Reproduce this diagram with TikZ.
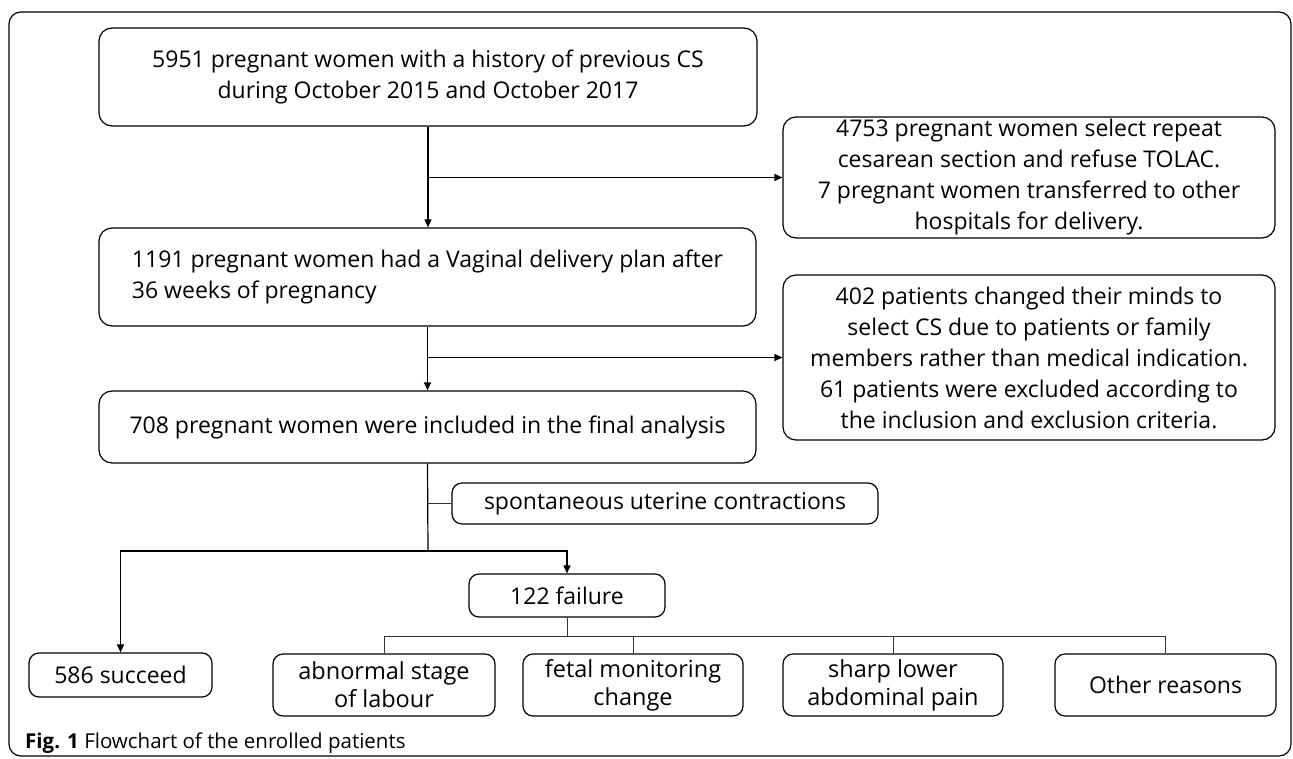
\documentclass[tikz,border=0pt]{standalone}
\usepackage{fontspec}
\setmainfont{Open Sans}
\usetikzlibrary{arrows.meta}
\begin{document}
\begin{tikzpicture}[x=1pt,y=-1pt,
  box/.style={draw, rectangle, rounded corners=13pt, line width=1.2pt, inner sep=0pt, align=center,
    font=\fontsize{23}{31}\selectfont},
  sbox/.style={box, rounded corners=10pt},
  arr/.style={line width=1.2pt, -{Triangle[length=8pt,width=7pt]}},
  conn/.style={line width=1.2pt},
  tline/.style={line width=1pt, draw=black!80},
]
\useasboundingbox (0,0) rectangle (1293,758);
\draw[line width=1.2pt, rounded corners=12pt] (9,12) rectangle (1291,756);

\node[box, minimum width=658pt, minimum height=98pt] (b1) at (428,77)
  {5951 pregnant women with a history of previous CS\\during October 2015 and October 2017};
\node[box, minimum width=492pt, minimum height=121pt] (b4753) at (1029,177.5)
  {4753 pregnant women select repeat\\cesarean section and refuse TOLAC.\\7 pregnant women transferred to other\\hospitals for delivery.};
\node[box, minimum width=657pt, minimum height=98pt, align=left] (b1191) at (427.5,277)
  {1191 pregnant women had a Vaginal delivery plan after\\36 weeks of pregnancy};
\node[box, minimum width=492pt, minimum height=165pt] (b402) at (1029,357.5)
  {402 patients changed their minds to\\select CS due to patients or family\\members rather than medical indication.\\61 patients were excluded according to\\the inclusion and exclusion criteria.};
\node[box, minimum width=657pt, minimum height=72pt] (b708) at (427.5,427)
  {708 pregnant women were included in the final analysis};
\node[sbox, minimum width=426pt, minimum height=41pt] (spont) at (665,503.5)
  {spontaneous uterine contractions};
\node[sbox, minimum width=196pt, minimum height=43pt] (fail) at (567,595.5)
  {122 failure};
\node[sbox, minimum width=183pt, minimum height=44pt] (succ) at (120.5,675)
  {586 succeed};
\node[sbox, minimum width=222pt, minimum height=62pt, font=\fontsize{23.5}{28}\selectfont] (abn) at (384,685)
  {abnormal stage\\of labour};
\node[sbox, minimum width=220pt, minimum height=62pt, font=\fontsize{23.5}{28}\selectfont] (fet) at (633,685)
  {fetal monitoring\\change};
\node[sbox, minimum width=220pt, minimum height=62pt, font=\fontsize{23.5}{28}\selectfont] (sharp) at (893,685)
  {sharp lower\\abdominal pain};
\node[sbox, minimum width=221pt, minimum height=62pt] (other) at (1165.5,685)
  {Other reasons};

\node[anchor=base west, inner sep=0pt, font=\fontsize{20.5}{24}\selectfont] (cap) at (25,748)
  {\textbf{Fig. 1} Flowchart of the enrolled patients};

% main trunk
\draw[arr] (b1.south) -- (b1.south |- b1191.north);
\draw[arr] (b1.south |- b4753.west) -- (b4753.west);
\draw[arr] (b1191.south) -- (b1191.south |- b708.north);
\draw[arr] (b1191.south |- b402.west) -- (b402.west);

\coordinate (j) at (428,551);
\draw[conn] (b708.south) -- (j);
\draw[tline] (b708.south |- spont.west) -- (spont.west);
\draw[arr] (j) -| (succ.north);
\draw[arr] (j) -| (fail.north);

\coordinate (t) at (567,636);
\draw[tline] (fail.south) -- (t);
\draw[tline] (abn.north) |- (t);
\draw[tline] (t) -| (other.north);
\draw[tline] (fet.north) -- (fet.north |- t);
\draw[tline] (sharp.north) -- (sharp.north |- t);
\end{tikzpicture}
\end{document}
